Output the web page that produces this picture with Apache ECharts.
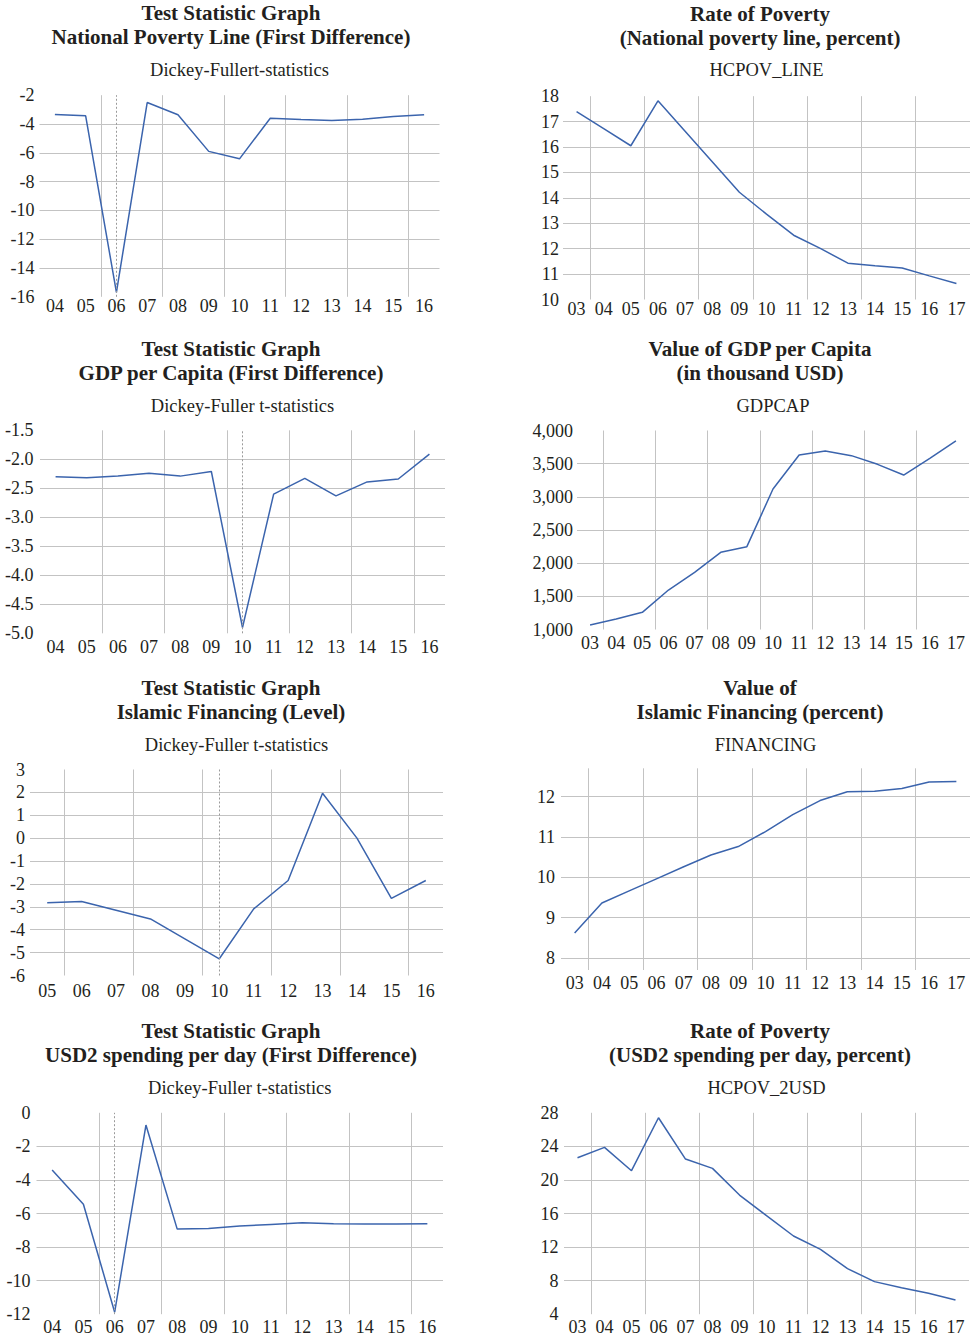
<!DOCTYPE html>
<html>
<head>
<meta charset="utf-8">
<script src="https://cdn.jsdelivr.net/npm/echarts@6/dist/echarts.min.js"></script>
<style>
  html, body { margin: 0; padding: 0; background: #ffffff; }
  #chart { width: 972px; height: 1340px; }
</style>
</head>
<body>
<div id="chart"></div>
<script>
// Year labels (two-digit) for the test-statistic panels and the level panels
const yearsDF = ['04', '05', '06', '07', '08', '09', '10', '11', '12', '13', '14', '15', '16'];
const yearsDFFin = ['05', '06', '07', '08', '09', '10', '11', '12', '13', '14', '15', '16'];
const yearsLevel = ['03', '04', '05', '06', '07', '08', '09', '10', '11', '12', '13', '14', '15', '16', '17'];

// Dickey-Fuller statistics
const dfPovertyLine = [-3.34, -3.43, -15.69, -2.51, -3.36, -5.90, -6.42, -3.60, -3.69, -3.76, -3.67, -3.48, -3.36];
const dfGdpCap = [-2.30, -2.32, -2.29, -2.24, -2.29, -2.21, -4.90, -2.60, -2.33, -2.63, -2.39, -2.34, -1.91];
const dfFinancing = [-2.82, -2.77, -3.15, -3.53, -4.40, -5.27, -3.09, -1.85, 1.96, 0.00, -2.63, -1.85];
const dfUsd2 = [-3.41, -5.45, -11.88, -0.73, -6.93, -6.89, -6.75, -6.65, -6.55, -6.61, -6.63, -6.63, -6.61];

// Levels
const hcpovLine = [17.39, 16.72, 16.05, 17.82, 16.62, 15.42, 14.22, 13.36, 12.53, 12.00, 11.43, 11.33, 11.24, 10.93, 10.63];
const gdpCap = [1068, 1158, 1259, 1595, 1862, 2163, 2249, 3118, 3631, 3691, 3621, 3490, 3329, 3580, 3842];
const financing = [8.62, 9.36, 9.66, 9.96, 10.26, 10.55, 10.76, 11.13, 11.55, 11.90, 12.12, 12.13, 12.20, 12.36, 12.37];
const hcpov2usd = [22.65, 23.88, 21.10, 27.41, 22.49, 21.38, 18.20, 15.74, 13.32, 11.73, 9.43, 7.88, 7.16, 6.49, 5.70];

// Structural break year marked in each test panel
const breakPovertyLine = '06';
const breakGdpCap = '10';
const breakFinancing = '10';
const breakUsd2 = '06';

const LINE_COLOR = '#3b64ad';
const GRID_COLOR = '#c3c3c3';
const TEXT_COLOR = '#231f20';
const SERIF = '"Liberation Serif", "Times New Roman", serif';

const panels = [
  { cats: yearsDF, data: dfPovertyLine, brk: breakPovertyLine,
    grid: { left: 39.5, top: 95.2, width: 400, height: 201.6 },
    y: { min: -16, max: -2, interval: 2 }, yMargin: 5, xMargin: 0,
    title: ['Test Statistic Graph', 'National Poverty Line (First Difference)'], sub: 'Dickey-Fullert-statistics',
    tx: 231, ty: 13.4 },
  { cats: yearsLevel, data: hcpovLine,
    grid: { left: 563, top: 96.2, width: 407, height: 203.3 },
    y: { min: 10, max: 18, interval: 1 }, yMargin: 4, xMargin: 0,
    title: ['Rate of Poverty', '(National poverty line, percent)'], sub: 'HCPOV_LINE',
    tx: 760, ty: 14 },
  { cats: yearsDF, data: dfGdpCap, brk: breakGdpCap,
    grid: { left: 40, top: 430.3, width: 405, height: 203 },
    y: { min: -5, max: -1.5, interval: 0.5, fmt: v => v.toFixed(1) }, yMargin: 6.5, xMargin: 5,
    title: ['Test Statistic Graph', 'GDP per Capita (First Difference)'], sub: 'Dickey-Fuller t-statistics',
    tx: 231, ty: 349.4 },
  { cats: yearsLevel, data: gdpCap,
    grid: { left: 577, top: 430.5, width: 392, height: 199 },
    y: { min: 1000, max: 4000, interval: 500, fmt: v => v.toLocaleString('en-US') }, yMargin: 4, xMargin: 4,
    title: ['Value of GDP per Capita', '(in thousand USD)'], sub: 'GDPCAP',
    tx: 760, ty: 349.4 },
  { cats: yearsDFFin, data: dfFinancing, brk: breakFinancing,
    grid: { left: 30, top: 769.5, width: 413, height: 206 },
    y: { min: -6, max: 3, interval: 1 }, yMargin: 5, xMargin: 6,
    title: ['Test Statistic Graph', 'Islamic Financing (Level)'], sub: 'Dickey-Fuller t-statistics',
    tx: 231, ty: 688.4 },
  { cats: yearsLevel, data: financing,
    grid: { left: 561, top: 768.3, width: 409, height: 201.7 },
    y: { min: 7.7, max: 12.7, hideEnds: true }, yMargin: 6, xMargin: 3.5,
    title: ['Value of', 'Islamic Financing (percent)'], sub: 'FINANCING',
    tx: 760, ty: 688.4 },
  { cats: yearsDF, data: dfUsd2, brk: breakUsd2,
    grid: { left: 36.5, top: 1112.8, width: 406.5, height: 201.4 },
    y: { min: -12, max: 0, interval: 2 }, yMargin: 6, xMargin: 4,
    title: ['Test Statistic Graph', 'USD2 spending per day (First Difference)'], sub: 'Dickey-Fuller t-statistics',
    tx: 231, ty: 1031.4 },
  { cats: yearsLevel, data: hcpov2usd,
    grid: { left: 564, top: 1112.8, width: 405, height: 201.4 },
    y: { min: 4, max: 28, interval: 4 }, yMargin: 5.5, xMargin: 4,
    title: ['Rate of Poverty', '(USD2 spending per day, percent)'], sub: 'HCPOV_2USD',
    tx: 760, ty: 1031.4 }
];

const grids = [], xAxes = [], yAxes = [], series = [], graphics = [];

panels.forEach((p, i) => {
  grids.push(Object.assign({ containLabel: false }, p.grid));

  // Vertical grid lines sit on the left boundary of every even year
  xAxes.push({
    type: 'category', gridIndex: i, data: p.cats, boundaryGap: true,
    axisLine: { show: false }, axisTick: { show: false },
    axisLabel: { interval: 0, margin: p.xMargin, color: TEXT_COLOR, fontFamily: SERIF, fontSize: 18 },
    splitLine: {
      show: true, showMinLine: false, showMaxLine: false,
      interval: (idx, val) => idx === 0 || Number(val) % 2 === 0,
      lineStyle: { color: GRID_COLOR, width: 1 }
    }
  });

  const y = {
    type: 'value', gridIndex: i, min: p.y.min, max: p.y.max,
    axisLine: { show: false }, axisTick: { show: false },
    axisLabel: { margin: p.yMargin, color: TEXT_COLOR, fontFamily: SERIF, fontSize: 18, align: 'right' },
    splitLine: { show: true, showMinLine: false, showMaxLine: false, lineStyle: { color: GRID_COLOR, width: 1 } }
  };
  if (p.y.interval) y.interval = p.y.interval;
  else y.splitNumber = 5;
  if (p.y.fmt) y.axisLabel.formatter = p.y.fmt;
  if (p.y.hideEnds) { y.axisLabel.showMinLabel = false; y.axisLabel.showMaxLabel = false; }
  yAxes.push(y);

  const s = {
    type: 'line', xAxisIndex: i, yAxisIndex: i, data: p.data,
    symbol: 'none', silent: true, animation: false,
    lineStyle: { color: LINE_COLOR, width: 1.5 }
  };
  if (p.brk) {
    s.markLine = {
      silent: true, symbol: 'none', animation: false,
      label: { show: false },
      lineStyle: { color: '#9a9a9a', type: [2, 2], width: 1 },
      data: [{ xAxis: p.brk }]
    };
  }
  series.push(s);

  const subX = p.grid.left + p.grid.width / 2;
  const texts = [
    { t: p.title[0], x: p.tx, y: p.ty, font: 'bold 21px ' + SERIF },
    { t: p.title[1], x: p.tx, y: p.ty + 23.8, font: 'bold 21px ' + SERIF },
    { t: p.sub, x: subX, y: p.ty + 56.3, font: '18.5px ' + SERIF }
  ];
  texts.forEach(o => graphics.push({
    type: 'text', x: o.x, y: o.y, silent: true,
    style: {
      text: o.t, font: o.font, fill: TEXT_COLOR,
      textAlign: 'center', textVerticalAlign: 'middle', align: 'center', verticalAlign: 'middle'
    }
  }));
});

const chart = echarts.init(document.getElementById('chart'), null, { renderer: 'svg', width: 972, height: 1340 });
chart.setOption({
  backgroundColor: '#ffffff',
  animation: false,
  grid: grids, xAxis: xAxes, yAxis: yAxes, series: series,
  graphic: { elements: graphics }
});
</script>
</body>
</html>
